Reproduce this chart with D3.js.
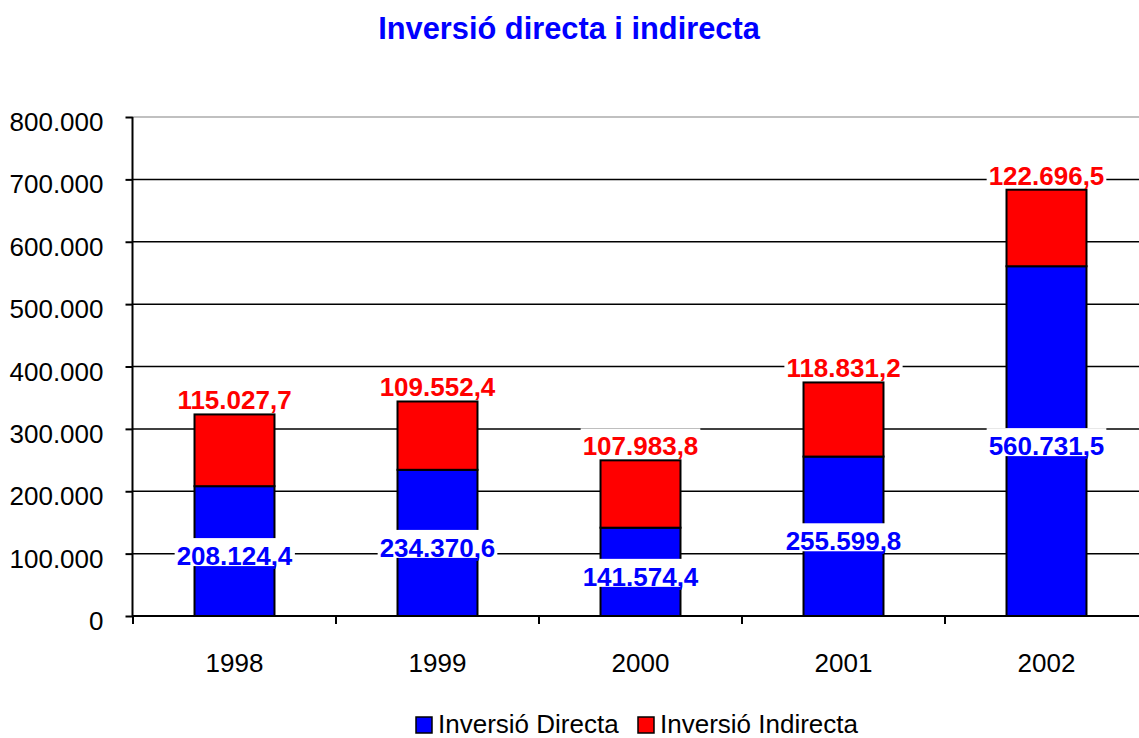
<!DOCTYPE html>
<html>
<head>
<meta charset="utf-8">
<script src="https://cdn.jsdelivr.net/npm/d3@7/dist/d3.min.js"></script>
<style>
  html, body { margin: 0; padding: 0; background: #fff; }
  svg { display: block; font-family: Arial, "Liberation Sans", sans-serif; }
</style>
</head>
<body>
<svg id="chart" width="1139" height="738"></svg>
<script>
const title = "Inversió directa i indirecta";
const categories = ["1998", "1999", "2000", "2001", "2002"];
const directa = [208124.4, 234370.6, 141574.4, 255599.8, 560731.5];
const indirecta = [115027.7, 109552.4, 107983.8, 118831.2, 122696.5];
const seriesNames = ["Inversió Directa", "Inversió Indirecta"];
const seriesColors = ["#0000ff", "#ff0000"];
const yTicks = [0, 100000, 200000, 300000, 400000, 500000, 600000, 700000, 800000];

const loc = d3.formatLocale({decimal: ",", thousands: ".", grouping: [3], currency: ["", "€"]});
const fmtLabel = loc.format(",.1f");
const fmtTick = loc.format(",.0f");

const svg = d3.select("#chart");
const W = 1139;

const x = d3.scaleBand().domain(categories).range([133, 1148]).padding(0);
const y = d3.scaleLinear().domain([0, 800000]).range([616, 117]);
const barW = x.bandwidth() * 0.394;

// title
svg.append("text").attr("x", 569).attr("y", 39).attr("text-anchor", "middle")
  .attr("font-size", 30.8).attr("font-weight", "bold").attr("fill", "#0000ff").text(title);

// gridlines
svg.append("g").selectAll("line").data(yTicks.filter(d => d > 0)).join("line")
  .attr("x1", 132).attr("x2", W)
  .attr("y1", d => y(d)).attr("y2", d => y(d))
  .attr("stroke", d => d === 800000 ? "#c0c0c0" : "#000")
  .attr("stroke-width", d => d === 800000 ? 2 : 1.5);

// y axis
const yAxis = d3.axisLeft(y).tickValues(yTicks).tickFormat(fmtTick).tickSize(7).tickPadding(22);
const gy = svg.append("g").attr("transform", "translate(132.5,0)").call(yAxis);
gy.select(".domain").attr("stroke", "#000").attr("stroke-width", 2).attr("d", "M0," + y(800000) + "V" + y(0));
gy.selectAll(".tick line").attr("stroke", "#000").attr("stroke-width", 2);
gy.selectAll(".tick text").attr("font-size", 26).attr("font-family", "Arial, 'Liberation Sans', sans-serif")
  .attr("fill", "#000").attr("dy", "0.52em");

// x axis
const gx = svg.append("g").attr("transform", "translate(0," + y(0) + ")");
gx.append("line").attr("x1", 132).attr("x2", W).attr("y1", 0).attr("y2", 0).attr("stroke", "#000").attr("stroke-width", 2);
gx.selectAll("line.tk").data(categories).join("line").attr("class", "tk")
  .attr("x1", d => x(d)).attr("x2", d => x(d)).attr("y1", 0).attr("y2", 8)
  .attr("stroke", "#000").attr("stroke-width", 2);
gx.selectAll("text").data(categories).join("text")
  .attr("x", d => x(d) + x.bandwidth() / 2).attr("y", 56)
  .attr("text-anchor", "middle").attr("font-size", 26).attr("fill", "#000").text(d => d);

// bars
const stackData = categories.map((c, i) => ({cat: c, d: directa[i], ind: indirecta[i]}));
const stack = d3.stack().keys(["d", "ind"])(stackData);
const gb = svg.append("g");
stack.forEach((s, si) => {
  gb.selectAll("rect.s" + si).data(s).join("rect").attr("class", "s" + si)
    .attr("x", (d) => x(d.data.cat) + x.bandwidth() / 2 - barW / 2)
    .attr("width", barW)
    .attr("y", d => y(d[1]))
    .attr("height", d => y(d[0]) - y(d[1]))
    .attr("fill", seriesColors[si]).attr("stroke", "#000").attr("stroke-width", 2);
});

// labels with white backgrounds
const gl = svg.append("g");
function addLabel(cx, baseline, txt, color) {
  const g = gl.append("g");
  const rect = g.append("rect").attr("fill", "#fff");
  const t = g.append("text").attr("x", cx).attr("y", baseline).attr("text-anchor", "middle")
    .attr("font-size", 26).attr("font-weight", "bold").attr("fill", color).text(txt);
  const bb = t.node().getBBox();
  rect.attr("x", bb.x - 2).attr("width", bb.width + 4).attr("y", baseline - 27).attr("height", 28);
}
stackData.forEach((d, i) => {
  const cx = x(d.cat) + x.bandwidth() / 2;
  const midBlue = (y(0) + y(d.d)) / 2;
  addLabel(cx, midBlue + 14, fmtLabel(d.d), seriesColors[0]);
  addLabel(cx, y(d.d + d.ind) - 5, fmtLabel(d.ind), seriesColors[1]);
});

// legend
const lg = svg.append("g");
const legX = [416, 638];
seriesNames.forEach((n, i) => {
  lg.append("rect").attr("x", legX[i]).attr("y", 717).attr("width", 16).attr("height", 16)
    .attr("fill", seriesColors[i]).attr("stroke", "#000").attr("stroke-width", 1.5);
  lg.append("text").attr("x", legX[i] + 22).attr("y", 733).attr("font-size", 26).attr("fill", "#000").text(n);
});
</script>
</body>
</html>
